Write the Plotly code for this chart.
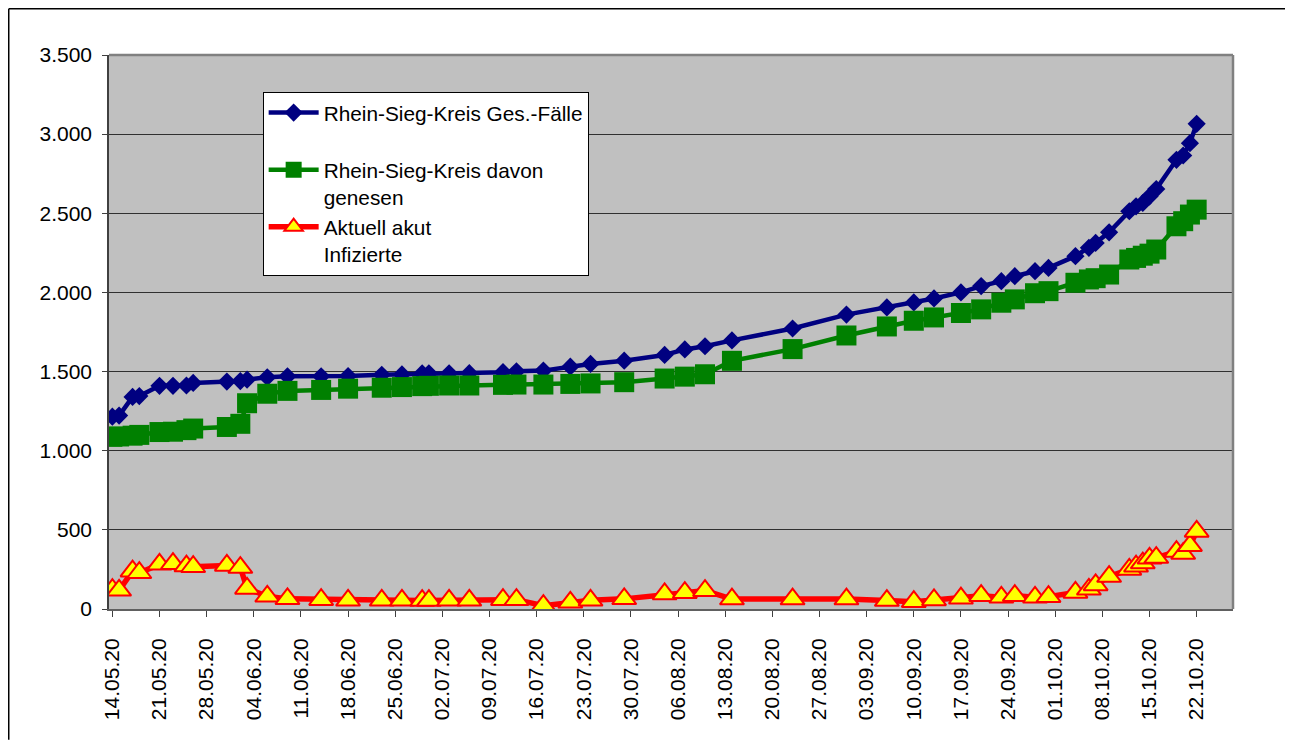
import plotly.graph_objects as go

# Meldedaten (TT.MM.2020)
dates = [
    "2020-05-14", "2020-05-15", "2020-05-17", "2020-05-18", "2020-05-21",
    "2020-05-23", "2020-05-25", "2020-05-26", "2020-05-31", "2020-06-02",
    "2020-06-03", "2020-06-06", "2020-06-09", "2020-06-14", "2020-06-18",
    "2020-06-23", "2020-06-26", "2020-06-29", "2020-06-30", "2020-07-03",
    "2020-07-06", "2020-07-11", "2020-07-13", "2020-07-17", "2020-07-21",
    "2020-07-24", "2020-07-29", "2020-08-04", "2020-08-07", "2020-08-10",
    "2020-08-14", "2020-08-23", "2020-08-31", "2020-09-06", "2020-09-10",
    "2020-09-13", "2020-09-17", "2020-09-20", "2020-09-23", "2020-09-25",
    "2020-09-28", "2020-09-30", "2020-10-04", "2020-10-06", "2020-10-07",
    "2020-10-09", "2020-10-12", "2020-10-13", "2020-10-14", "2020-10-15",
    "2020-10-16", "2020-10-19", "2020-10-20", "2020-10-21", "2020-10-22",
]

ges_faelle = [
    1215, 1222, 1340, 1345, 1410, 1410, 1412, 1428, 1437, 1440,
    1449, 1464, 1470, 1470, 1472, 1480, 1482, 1488, 1489, 1489,
    1490, 1496, 1502, 1506, 1531, 1548, 1569, 1605, 1640, 1660,
    1697, 1772, 1860, 1905, 1937, 1962, 2000, 2040, 2071, 2103,
    2134, 2155, 2229, 2282, 2313, 2380, 2513, 2544, 2565, 2607,
    2653, 2838, 2865, 2943, 3065,
]

genesen = [
    1088, 1090, 1095, 1100, 1118, 1120, 1130, 1140, 1150, 1170,
    1300, 1360, 1378, 1384, 1392, 1398, 1402, 1408, 1410, 1412,
    1412, 1416, 1418, 1418, 1422, 1425, 1433, 1456, 1468, 1483,
    1568, 1642, 1728, 1785, 1821, 1842, 1870, 1893, 1935, 1956,
    1995, 2008, 2061, 2082, 2090, 2113, 2208, 2218, 2232, 2245,
    2271, 2418, 2450, 2492, 2523,
]

akut = [
    122, 118, 239, 229, 282, 286, 271, 267, 275, 262,
    130, 80, 64, 59, 55, 55, 55, 53, 53, 55,
    55, 59, 59, 21, 42, 55, 64, 95, 103, 116,
    63, 63, 63, 53, 46, 57, 68, 84, 74, 84,
    74, 78, 105, 124, 152, 205, 250, 270, 290, 320,
    325, 363, 350, 400, 490,
]

FONT = "Liberation Sans, Arial, sans-serif"
FS = 21
FS_LEG = 20.8

fig = go.Figure()

fig.add_trace(go.Scatter(
    x=dates, y=ges_faelle, mode="lines+markers",
    name="Rhein-Sieg-Kreis Ges.-Fälle<br>&nbsp;",
    line=dict(color="#000080", width=4.5),
    marker=dict(symbol="diamond", size=14, color="#000080"),
))
fig.add_trace(go.Scatter(
    x=dates, y=genesen, mode="lines+markers",
    name="Rhein-Sieg-Kreis davon<br>genesen",
    line=dict(color="#008000", width=4.5),
    marker=dict(symbol="square", size=20, color="#008000"),
))
fig.add_trace(go.Scatter(
    x=dates, y=akut, mode="lines+markers",
    name="Aktuell akut<br>Infizierte",
    line=dict(color="#FF0000", width=5.5),
    marker=dict(symbol="triangle-up", size=21, color="#FFFF00",
                line=dict(color="#FF0000", width=2)),
))

# Rahmen: schwarze Linie oben und links, graue Kante der Plotflaeche oben/rechts
fig.add_shape(type="line", xref="paper", yref="paper",
              x0=-0.0892, x1=1.0534, y0=1.0835, y1=1.0835,
              line=dict(color="#000000", width=1.5), layer="below")
fig.add_shape(type="line", xref="paper", yref="paper",
              x0=-0.0892, x1=-0.0892, y0=-0.236, y1=1.0835,
              line=dict(color="#000000", width=1.5), layer="below")
fig.add_shape(type="line", xref="paper", yref="paper",
              x0=0, x1=1, y0=1, y1=1,
              line=dict(color="#808080", width=2.5), layer="above")
fig.add_shape(type="line", xref="paper", yref="paper",
              x0=1, x1=1, y0=0, y1=1,
              line=dict(color="#808080", width=2.5), layer="above")

# die Seite hat 8px Rand, daher 1285x732 und verschobene Raender
fig.update_layout(
    width=1285, height=732,
    margin=dict(l=101, r=60, t=47, b=131),
    paper_bgcolor="white",
    plot_bgcolor="#C0C0C0",
    separators=",.",
    font=dict(family=FONT, size=FS, color="black"),
    showlegend=True,
    legend=dict(
        x=0.1367, y=0.934, xanchor="left", yanchor="top",
        bgcolor="white", bordercolor="#000000", borderwidth=1,
        font=dict(family=FONT, size=FS_LEG, color="black"),
        valign="top", itemwidth=50, tracegroupgap=0,
    ),
)

fig.update_xaxes(
    type="date",
    range=["2020-05-13 12:00", "2020-10-27 09:30"],
    tick0="2020-05-14", dtick=7 * 24 * 3600 * 1000,
    tickformat="%d.%m.%y", tickangle=-90,
    ticks="outside", ticklen=6, tickcolor="#404040",
    showgrid=False, zeroline=False,
    showline=True, linecolor="#606060", linewidth=2,
    tickfont=dict(family=FONT, size=FS, color="black"),
    ticklabelstandoff=13,
)
fig.update_yaxes(
    range=[0, 3500], dtick=500, tickformat=",d",
    ticks="outside", ticklen=5, tickcolor="#404040",
    showgrid=True, gridcolor="#303030", gridwidth=1,
    zeroline=False,
    showline=True, linecolor="#404040", linewidth=1.5,
    tickfont=dict(family=FONT, size=FS, color="black"),
    ticklabelstandoff=6,
)

fig.write_html("out.html")
